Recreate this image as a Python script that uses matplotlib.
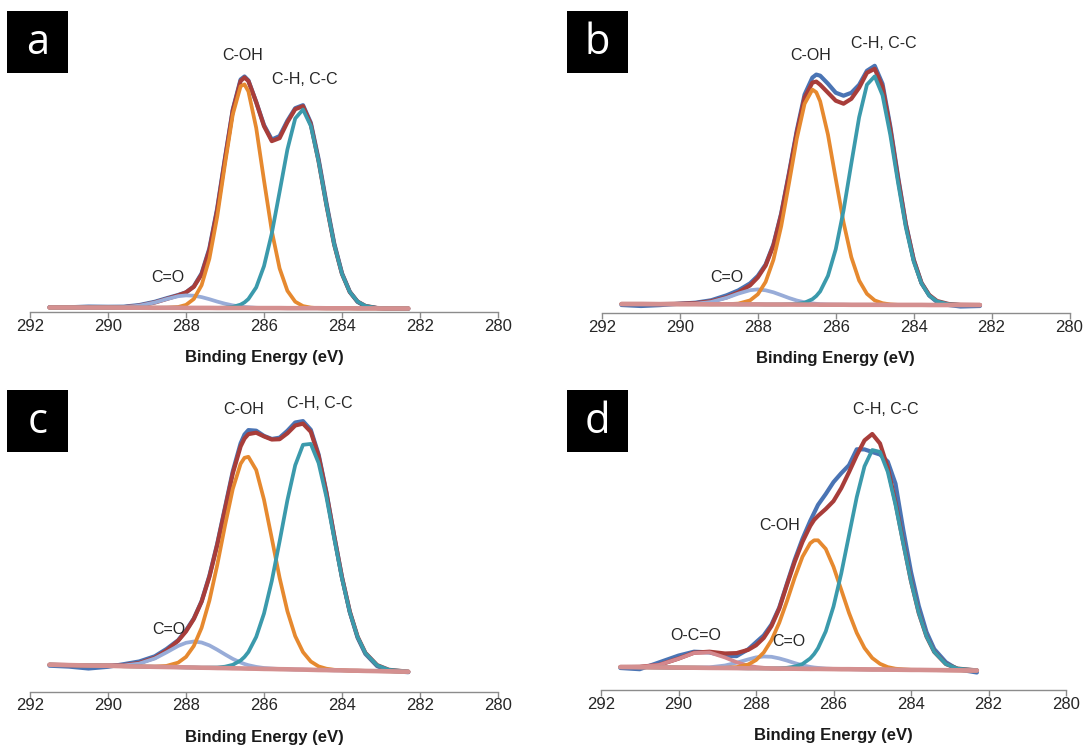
import numpy as np
import matplotlib
matplotlib.use('Agg')
import matplotlib.pyplot as plt
from matplotlib.patches import Rectangle

plt.rcParams['font.family'] = ['Liberation Sans', 'DejaVu Sans']

# binding energy grid (eV), shared by the four C1s spectra
energy = [291.5, 291.0, 290.5, 290.0, 289.6, 289.2, 288.8, 288.5, 288.2, 288.0,
          287.8, 287.6, 287.4, 287.2, 287.0, 286.8, 286.6, 286.5, 286.4, 286.2,
          286.0, 285.8, 285.6, 285.4, 285.2, 285.0, 284.8, 284.6, 284.4, 284.2,
          284.0, 283.8, 283.6, 283.4, 283.1, 282.8, 282.3]

# intensities in a.u.; baseline is absolute, everything else is above the baseline
# --- a ---
base_a = [4.5, 4.5, 4.4, 4.4, 4.3, 4.3, 4.2, 4.2, 4.2, 4.1,
          4.1, 4.1, 4.1, 4.0, 4.0, 4.0, 4.0, 4.0, 4.0, 3.9,
          3.9, 3.9, 3.9, 3.8, 3.8, 3.8, 3.8, 3.8, 3.7, 3.7,
          3.7, 3.7, 3.6, 3.6, 3.6, 3.5, 3.5]
c_oh_a = [0, 0, 0, 0, 0, 0, 0, 0.1, 0.8, 3.0,
          8.9, 22.7, 49.3, 91.3, 144.0, 193.6, 221.8, 223.6, 216.6, 180.2,
          127.7, 77.1, 39.7, 17.4, 6.5, 2.1, 0.6, 0, 0, 0,
          0, 0, 0, 0, 0, 0, 0]
c_hc_a = [0, 0, 0, 0, 0, 0, 0, 0, 0, 0,
          0, 0, 0, 0.1, 0.3, 1.1, 3.4, 5.6, 9.0, 20.7,
          42.0, 74.7, 116.3, 158.7, 189.7, 198.7, 182.3, 146.6, 103.3, 63.7,
          34.4, 16.3, 6.8, 2.5, 0.4, 0, 0]
c_o_a = [0, 0, 0, 0.1, 0.5, 2.0, 5.3, 8.7, 11.6, 12.5,
         12.2, 10.8, 8.7, 6.4, 4.3, 2.6, 1.4, 1.0, 0.7, 0.3,
         0.1, 0, 0, 0, 0, 0, 0, 0, 0, 0,
         0, 0, 0, 0, 0, 0, 0]
fit_a = [0, 0, 0, 0.1, 0.5, 2.0, 5.3, 8.8, 12.4, 15.5,
         21.1, 33.5, 58.0, 97.8, 148.6, 197.5, 227.0, 230.5, 227.0, 206.0,
         182.0, 167.0, 170.0, 186.0, 199.0, 202.0, 184.0, 147.0, 103.5, 63.7,
         34.4, 16.3, 6.8, 2.5, 0.4, 0, 0]
meas_a = [0.3, 0.2, 1.0, 0.8, 1.0, 2.6, 6.0, 9.5, 12.8, 15.5,
          21.5, 34.5, 59.5, 99.5, 150.0, 198.5, 228.5, 231.5, 227.5, 206.0,
          183.0, 168.5, 172.0, 187.5, 200.0, 203.0, 185.5, 149.0, 105.5, 65.0,
          35.0, 16.5, 6.5, 2.0, 0.3, -0.3, -0.3]

# --- b ---
base_b = [9.0, 9.0, 8.9, 8.8, 8.8, 8.7, 8.7, 8.6, 8.6, 8.6,
          8.5, 8.5, 8.5, 8.5, 8.4, 8.4, 8.4, 8.4, 8.3, 8.3,
          8.3, 8.3, 8.2, 8.2, 8.2, 8.2, 8.2, 8.1, 8.1, 8.1,
          8.1, 8.1, 8.0, 8.0, 8.0, 8.0, 8.0]
c_oh_b = [0, 0, 0, 0, 0, 0, 0.1, 0.8, 4.0, 10.1,
          22.6, 44.7, 78.3, 121.3, 166.0, 200.8, 215.0, 212.3, 203.4, 170.1,
          125.8, 82.3, 47.6, 24.3, 11.0, 4.4, 1.6, 0.5, 0, 0,
          0, 0, 0, 0, 0, 0, 0]
c_hc_b = [0, 0, 0, 0, 0, 0, 0, 0, 0, 0,
          0, 0, 0, 0.2, 0.6, 1.9, 5.4, 8.6, 13.3, 28.9,
          55.5, 94.2, 141.4, 187.5, 220.1, 228.5, 209.6, 170.0, 121.9, 77.3,
          43.3, 21.5, 9.4, 3.6, 0.7, 0.1, 0]
c_o_b = [0, 0, 0, 0.1, 0.5, 2.3, 6.5, 10.8, 14.2, 15.0,
         14.2, 12.2, 9.4, 6.5, 4.1, 2.3, 1.2, 0.8, 0.5, 0.2,
         0.1, 0, 0, 0, 0, 0, 0, 0, 0, 0,
         0, 0, 0, 0, 0, 0, 0]
fit_b = [0, 0, 0, 0.5, 1.0, 3.0, 7.0, 12.0, 19.0, 27.0,
         39.0, 59.0, 90.0, 130.0, 172.0, 207.0, 222.0, 223.0, 220.0, 212.0,
         204.0, 201.0, 206.0, 217.0, 232.0, 236.0, 218.0, 176.0, 126.0, 80.0,
         45.0, 22.0, 10.0, 4.0, 1.0, 0.2, 0]
meas_b = [-1.0, -2.0, -1.0, 0.5, 1.5, 4.0, 9.0, 14.0, 21.0, 28.5,
          40.0, 60.0, 91.0, 131.5, 174.0, 210.0, 227.0, 230.0, 229.0, 221.0,
          212.0, 209.0, 212.0, 220.0, 234.0, 239.0, 221.0, 178.5, 128.0, 81.0,
          45.5, 22.0, 9.5, 3.0, 0.0, -1.5, -1.0]

# --- c ---
base_c = [27.0, 26.6, 26.2, 25.9, 25.5, 25.2, 24.9, 24.7, 24.5, 24.3,
          24.2, 24.0, 23.9, 23.7, 23.6, 23.4, 23.3, 23.2, 23.1, 23.0,
          22.8, 22.7, 22.5, 22.4, 22.2, 22.1, 21.9, 21.7, 21.6, 21.4,
          21.3, 21.1, 21.0, 20.8, 20.6, 20.4, 20.0]
c_oh_c = [0, 0, 0, 0, 0, 0, 0.2, 1.1, 4.6, 10.5,
          21.5, 39.9, 67.2, 102.8, 142.5, 179.4, 204.6, 210.7, 211.8, 198.7,
          169.2, 130.6, 91.4, 58.1, 33.4, 17.5, 8.3, 3.6, 1.4, 0.5,
          0.2, 0, 0, 0, 0, 0, 0]
c_hc_c = [0, 0, 0, 0, 0, 0, 0, 0, 0, 0,
          0, 0, 0.2, 0.5, 1.4, 3.5, 7.9, 11.6, 16.6, 31.8,
          55.4, 88.1, 127.8, 169.1, 204.2, 224.8, 225.9, 207.0, 173.1, 131.9,
          91.9, 58.3, 33.7, 17.8, 5.8, 1.5, 0.1]
c_o_c = [0, 0, 0, 0.1, 0.7, 2.9, 8.3, 14.6, 21.3, 24.6,
         26.0, 25.2, 22.4, 18.3, 13.7, 9.4, 5.9, 4.5, 3.4, 1.8,
         0.9, 0.4, 0.2, 0, 0, 0, 0, 0, 0, 0,
         0, 0, 0, 0, 0, 0, 0]
fit_c = [0, 0, 0, 0.3, 1.0, 3.5, 9.0, 16.5, 26.5, 36.0,
         48.5, 66.0, 91.0, 123.0, 159.0, 195.0, 222.0, 230.0, 234.5, 236.0,
         232.5, 229.5, 230.0, 236.0, 244.0, 246.0, 238.0, 214.0, 177.0, 134.0,
         93.0, 59.0, 34.0, 18.0, 6.0, 1.5, 0]
meas_c = [-1.0, -1.5, -3.0, -1.0, 2.0, 5.0, 10.5, 18.0, 27.0, 37.0,
          49.0, 66.5, 92.0, 124.0, 160.5, 197.0, 225.0, 234.0, 238.5, 238.0,
          233.0, 230.0, 231.5, 238.5, 247.0, 248.5, 240.0, 215.5, 178.0, 134.5,
          93.0, 58.5, 33.0, 17.0, 5.0, 0.5, -0.5]

# --- d ---
base_d = [23.0, 22.8, 22.6, 22.4, 22.3, 22.1, 22.0, 21.9, 21.7, 21.7,
          21.6, 21.5, 21.4, 21.4, 21.3, 21.2, 21.1, 21.1, 21.1, 21.0,
          20.9, 20.8, 20.8, 20.7, 20.6, 20.5, 20.5, 20.4, 20.3, 20.2,
          20.1, 20.1, 20.0, 19.9, 19.8, 19.7, 19.5]
c_oh_d = [0, 0, 0, 0, 0, 0, 0.2, 1.0, 3.8, 8.2,
          15.9, 28.3, 45.8, 67.6, 91.2, 112.1, 125.7, 128.6, 128.6, 120.1,
          102.3, 79.4, 56.3, 36.4, 21.4, 11.5, 5.7, 2.5, 1.0, 0.4,
          0.1, 0, 0, 0, 0, 0, 0]
c_hc_d = [0, 0, 0, 0, 0, 0, 0, 0, 0, 0,
          0, 0, 0.3, 0.8, 2.1, 4.8, 10.5, 14.9, 20.7, 37.6,
          62.6, 95.7, 134.0, 172.2, 203.1, 219.5, 217.6, 197.8, 164.9, 126.2,
          88.5, 56.9, 33.6, 18.2, 6.2, 1.7, 0.1]
c_o_d = [0, 0, 0, 0, 0.1, 0.6, 2.5, 5.4, 8.9, 10.9,
         11.9, 11.7, 10.2, 8.0, 5.6, 3.5, 2.0, 1.4, 1.0, 0.4,
         0.2, 0.1, 0, 0, 0, 0, 0, 0, 0, 0,
         0, 0, 0, 0, 0, 0, 0]
o_c_o_d = [0, 0.4, 2.5, 8.9, 14.7, 15.5, 10.5, 5.9, 2.5, 1.3,
           0.6, 0.2, 0.1, 0, 0, 0, 0, 0, 0, 0,
           0, 0, 0, 0, 0, 0, 0, 0, 0, 0,
           0, 0, 0, 0, 0, 0, 0]
fit_d = [0, 0.4, 2.5, 9.0, 15.0, 16.2, 14.5, 15.0, 18.5, 23.0,
         30.5, 42.5, 60.0, 84.0, 107.0, 127.0, 143.0, 149.0, 153.0, 160.0,
         168.0, 181.0, 197.0, 214.0, 229.0, 235.5, 226.0, 202.0, 167.0, 127.5,
         89.0, 57.0, 33.6, 18.2, 6.2, 1.7, 0.1]
meas_d = [-1.0, -2.0, 5.0, 12.0, 16.0, 15.5, 12.0, 12.0, 19.0, 26.0,
          33.0, 44.0, 61.0, 85.0, 109.0, 130.0, 148.0, 156.0, 164.0, 175.0,
          187.0, 196.0, 204.0, 220.0, 220.0, 217.5, 215.0, 208.0, 186.0, 140.0,
          98.0, 64.0, 38.0, 21.0, 8.0, 1.0, -2.0]

x_ticks = [292, 290, 288, 286, 284, 282, 280]

# colours
BLUE = '#4a74b4'
RED = '#a83d3a'
ORANGE = '#e6892f'
TEAL = '#3b9aac'
LIGHT = '#98acd8'
PINK = '#d49090'
OCO = '#d4878d'

# layout in pixels of the 1084x745 image: left, right, spine y, letter box x, y
W, H = 1084, 745
layout = {
    'a': dict(left=30, right=498, spine=312, box=(7, 11)),
    'b': dict(left=602, right=1069.5, spine=313, box=(567, 11)),
    'c': dict(left=30, right=498, spine=691.7, box=(7, 390.5)),
    'd': dict(left=601, right=1066, spine=690, box=(567, 390.5)),
}
AX_H = 300  # axes height in px == y-range in a.u.

panels = [
    dict(tag='a', base=base_a, fit=fit_a, meas=meas_a,
         comps=[(c_o_a, LIGHT), (c_oh_a, ORANGE), (c_hc_a, TEAL)],
         notes=[('C-OH', 286.54, 256.5), ('C-H, C-C', 284.95, 232), ('C=O', 288.46, 35)]),
    dict(tag='b', base=base_b, fit=fit_b, meas=meas_b,
         comps=[(c_o_b, LIGHT), (c_oh_b, ORANGE), (c_hc_b, TEAL)],
         notes=[('C-OH', 286.64, 258), ('C-H, C-C', 284.77, 270), ('C=O', 288.8, 36)]),
    dict(tag='c', base=base_c, fit=fit_c, meas=meas_c,
         comps=[(c_o_c, LIGHT), (c_oh_c, ORANGE), (c_hc_c, TEAL)],
         notes=[('C-OH', 286.51, 282), ('C-H, C-C', 284.58, 288), ('C=O', 288.45, 62)]),
    dict(tag='d', base=base_d, fit=fit_d, meas=meas_d,
         comps=[(c_o_d, LIGHT), (o_c_o_d, OCO), (c_oh_d, ORANGE), (c_hc_d, TEAL)],
         notes=[('C-H, C-C', 284.66, 280), ('C-OH', 287.40, 164),
                ('O-C=O', 289.55, 54), ('C=O', 287.16, 48)]),
]

fig = plt.figure(figsize=(W / 100, H / 100), dpi=100)
e = np.array(energy)

for p in panels:
    lay = layout[p['tag']]
    rect = [lay['left'] / W, 1 - lay['spine'] / H,
            (lay['right'] - lay['left']) / W, AX_H / H]
    ax = fig.add_axes(rect)
    ax.patch.set_alpha(0)
    base = np.array(p['base'])

    kw = dict(solid_capstyle='round', solid_joinstyle='round')
    ax.plot(e, base + np.array(p['meas']), color=BLUE, lw=3.0, zorder=2, **kw)
    ax.plot(e, base + np.array(p['fit']), color=RED, lw=3.0, zorder=3, **kw)
    for i, (comp, col) in enumerate(p['comps']):
        ax.plot(e, base + np.array(comp), color=col, lw=2.7, zorder=4 + i, **kw)
    ax.plot(e, base, color=PINK, lw=3.3, zorder=10, **kw)

    for txt, xe, yh in p['notes']:
        ax.text(xe, yh, txt, ha='center', va='center', fontsize=11.5,
                color='#262626', zorder=12)

    ax.set_xlim(292, 280)
    ax.set_ylim(0, AX_H)
    ax.set_xticks(x_ticks)
    ax.set_yticks([])
    for s in ['top', 'right', 'left']:
        ax.spines[s].set_visible(False)
    ax.spines['bottom'].set_color('#8c8c8c')
    ax.spines['bottom'].set_linewidth(1.0)
    ax.tick_params(axis='x', direction='out', length=4.5, width=1.0,
                   color='#8c8c8c', pad=0.3, labelsize=12, labelcolor='#262626')
    ax.set_xlabel('Binding Energy (eV)', fontsize=12, fontweight='bold',
                  color='#1a1a1a')
    ax.xaxis.set_label_coords(0.5, -50 / AX_H)
    ax.xaxis.label.set_va('baseline')

    # letter tag in a black box
    bx, by = lay['box']
    fig.add_artist(Rectangle((bx / W, 1 - (by + 62) / H), 61 / W, 62 / H,
                             transform=fig.transFigure, facecolor='black',
                             edgecolor='none'))
    fig.text((bx + 30.5) / W, 1 - (by + 42.5) / H, p['tag'], color='white',
             fontsize=30, family=['Open Sans', 'DejaVu Sans'],
             ha='center', va='baseline')

fig.savefig('out.png', dpi=100)
